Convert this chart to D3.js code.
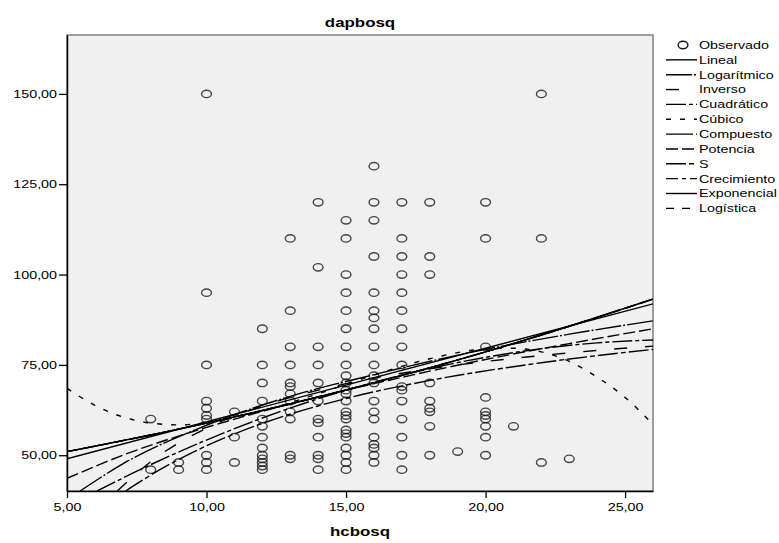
<!DOCTYPE html>
<html>
<head>
<meta charset="utf-8">
<script src="https://cdn.jsdelivr.net/npm/d3@7"></script>
<style>
  body { margin: 0; background: #fff; }
  text { font-family: "Liberation Sans", Arial, sans-serif; }
</style>
</head>
<body>
<script>
// observed values, one list of dapbosq per hcbosq value
const hcbosq = [8, 9, 10, 11, 12, 13, 14, 15, 16, 17, 18, 19, 20, 21, 22, 23];
const dapbosq = [
  [60, 46],
  [48, 46],
  [150, 95, 75, 65, 63, 61, 60, 50, 48, 46],
  [62, 55, 48],
  [85, 75, 70, 65, 60, 58, 55, 52, 50, 49, 48, 47, 46],
  [110, 90, 80, 75, 70, 69, 67, 65, 62, 60, 50, 49],
  [120, 102, 80, 75, 70, 65, 60, 59, 55, 50, 49, 46],
  [115, 110, 100, 95, 90, 85, 80, 75, 72, 70, 68, 67, 65, 62, 61, 60, 57, 56, 55, 52, 50, 48, 46],
  [130, 120, 115, 105, 95, 90, 88, 85, 80, 75, 72, 70, 65, 62, 60, 55, 53, 52, 50, 48],
  [120, 110, 105, 100, 95, 90, 85, 80, 75, 69, 68, 65, 60, 55, 50, 46],
  [120, 105, 100, 70, 65, 63, 62, 58, 50],
  [51],
  [120, 110, 80, 66, 62, 61, 60, 58, 55, 50],
  [58],
  [150, 110, 48],
  [49]
];

// fitted curves as [hcbosq, dapbosq]
const fitLineal = [[5, 49.0], [26, 91.9]];
const fitLogaritmico = [[5.47, 40.1], [7, 47.6], [10, 58.3], [13, 66.3], [16, 72.3], [20, 79.3], [23, 83.5], [26, 87.2]];
const fitInverso = [[6.8, 40.1], [8, 48.2], [10, 57.5], [12, 63.6], [15, 69.8], [18, 73.9], [22, 77.6], [26, 80.2]];
const fitCuadratico = [[6.08, 40.1], [8, 47.4], [10, 54.2], [12, 60.3], [15, 68.0], [18, 74.0], [20, 77.1], [22, 79.5], [24, 81.1], [26, 81.9]];
const fitCubico = [[5, 68.5], [6, 63.8], [7, 60.6], [8, 58.9], [9, 58.4], [10, 59.0], [12, 62.3], [14, 67.0], [16, 72.2], [18, 76.7], [20, 79.4], [21, 79.6], [22, 78.6], [23, 76.0], [24, 71.6], [25, 66.0], [26, 58.5]];
const fitExponencial = [[5, 51.0], [8, 55.6], [11, 60.6], [14, 66.1], [17, 72.1], [20, 78.6], [23, 85.7], [26, 93.2]];
const fitPotencia = [[5, 43.6], [7, 50.0], [10, 57.7], [13, 64.2], [16, 69.8], [20, 76.5], [23, 80.9], [26, 85.0]];
const fitS = [[7.1, 40.1], [8, 44.5], [10, 52.6], [12, 58.8], [15, 65.7], [18, 70.7], [22, 75.6], [26, 79.3]];

const models = [
  {name: "Lineal", pts: fitLineal, dash: null},
  {name: "Logarítmico", pts: fitLogaritmico, dash: "26,2,2,2"},
  {name: "Inverso", pts: fitInverso, dash: "13,18"},
  {name: "Cuadrático", pts: fitCuadratico, dash: "20,3,4,3"},
  {name: "Cúbico", pts: fitCubico, dash: "5,9"},
  {name: "Compuesto", pts: fitExponencial, dash: "27,3,1,3"},
  {name: "Potencia", pts: fitPotencia, dash: "12,4"},
  {name: "S", pts: fitS, dash: "20,3,5,3"},
  {name: "Crecimiento", pts: fitExponencial, dash: "12,4,4,4"},
  {name: "Exponencial", pts: fitExponencial, dash: null},
  {name: "Logística", pts: fitExponencial, dash: "8,8"}
];

const xTicks = [5, 10, 15, 20, 25];
const yTicks = [50, 75, 100, 125, 150];

const W = 779, H = 543;
const pLeft = 67, pRight = 653, pTop = 35, pBottom = 491;
const SX = 1.3; // the picture is stretched sideways

const x = d3.scaleLinear([5, 26], [pLeft, pRight]);
const y = d3.scaleLinear([40.1, 166.3], [pBottom, pTop]);
const fmt = d => d3.format(".2f")(d).replace(".", ",");

const svg = d3.select("body").append("svg")
  .attr("width", W)
  .attr("height", H);

function stretch(sel) {
  sel.each(function() {
    const t = d3.select(this);
    t.attr("x", (+t.attr("x") || 0) / SX).attr("transform", `scale(${SX},1)`);
  });
}

function label(txt, px, py, opts = {}) {
  svg.append("g").attr("transform", `translate(${px},${py}) scale(${SX},1)`)
    .append("text")
    .attr("text-anchor", opts.anchor || "start")
    .attr("dy", opts.dy || 0)
    .attr("font-size", opts.size || 11)
    .attr("font-weight", opts.weight || "normal")
    .attr("fill", "#000")
    .text(txt);
}

// plot background + frame
svg.append("rect")
  .attr("x", pLeft).attr("y", pTop)
  .attr("width", pRight - pLeft).attr("height", pBottom - pTop)
  .attr("fill", "#f0f0f0")
  .attr("stroke", "#808080")
  .attr("stroke-width", 1.5);

svg.append("clipPath").attr("id", "clip")
  .append("rect")
  .attr("x", pLeft).attr("y", pTop)
  .attr("width", pRight - pLeft).attr("height", pBottom - pTop);

// points
const obs = [];
hcbosq.forEach((h, i) => dapbosq[i].forEach(v => obs.push({h, v})));

svg.append("g")
  .selectAll("ellipse")
  .data(obs)
  .join("ellipse")
  .attr("cx", d => x(d.h))
  .attr("cy", d => y(d.v))
  .attr("rx", 4.9)
  .attr("ry", 3.7)
  .attr("fill", "none")
  .attr("stroke", "#1a1a1a")
  .attr("stroke-opacity", 0.8)
  .attr("stroke-width", 1.4);

// fit curves
const line = d3.line()
  .x(d => x(d[0]))
  .y(d => y(d[1]))
  .curve(d3.curveMonotoneX);

svg.append("g")
  .attr("clip-path", "url(#clip)")
  .selectAll("path")
  .data(models)
  .join("path")
  .attr("d", d => line(d.pts))
  .attr("fill", "none")
  .attr("stroke", "#000")
  .attr("stroke-width", 1.4)
  .attr("stroke-dasharray", d => d.dash);

// axes
const yAxis = svg.append("g")
  .attr("transform", `translate(${pLeft},0)`)
  .call(d3.axisLeft(y).tickValues(yTicks).tickFormat(fmt).tickSize(8).tickPadding(2).tickSizeOuter(0));
const xAxis = svg.append("g")
  .attr("transform", `translate(0,${pBottom})`)
  .call(d3.axisBottom(x).tickValues(xTicks).tickFormat(fmt).tickSize(7).tickPadding(5).tickSizeOuter(0));

[yAxis, xAxis].forEach(a => {
  a.select(".domain").attr("stroke", "#000").attr("stroke-width", 1.5);
  a.selectAll(".tick line").attr("stroke", "#000").attr("stroke-width", 1.3);
  a.selectAll("text").attr("font-size", 11).attr("font-family", "Liberation Sans, Arial, sans-serif").attr("fill", "#000");
  stretch(a.selectAll("text"));
});

// titles
label("dapbosq", (pLeft + pRight) / 2, 27, {anchor: "middle", size: 13, weight: "bold"});
label("hcbosq", (pLeft + pRight) / 2, 536, {anchor: "middle", size: 13, weight: "bold"});

// legend
const lgX = 666, lgY = 45, lgStep = 14.85;
svg.append("ellipse")
  .attr("cx", 683).attr("cy", lgY)
  .attr("rx", 4.9).attr("ry", 3.7)
  .attr("fill", "none").attr("stroke", "#1a1a1a").attr("stroke-width", 1.4);
label("Observado", 699, lgY, {dy: "0.35em"});

models.forEach((m, i) => {
  const ly = lgY + (i + 1) * lgStep;
  svg.append("line")
    .attr("x1", lgX).attr("x2", lgX + 31)
    .attr("y1", ly).attr("y2", ly)
    .attr("stroke", "#000").attr("stroke-width", 1.4)
    .attr("stroke-dasharray", m.dash);
  label(m.name, 699, ly, {dy: "0.35em"});
});
</script>
</body>
</html>
